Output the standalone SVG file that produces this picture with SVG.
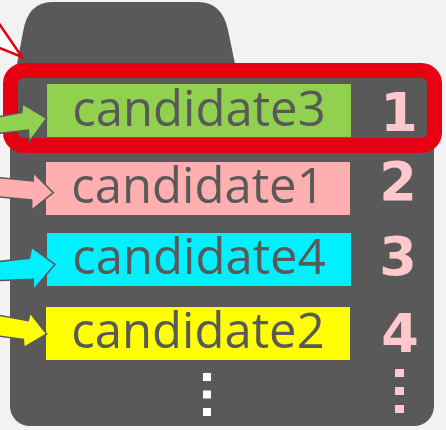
<svg xmlns="http://www.w3.org/2000/svg" width="446" height="430" viewBox="0 0 446 430">
<style>
.lbl{font-family:"Open Sans","Liberation Sans",sans-serif;font-size:49px;fill:#595959;text-anchor:middle}
.num{font-family:"DejaVu Sans","Liberation Sans",sans-serif;font-weight:bold;font-size:54px;fill:#ffc8cc;text-anchor:middle}
.arr{stroke:#595959;stroke-width:1.5;stroke-linejoin:miter}
</style>
<rect width="446" height="430" fill="#f2f2f2"/>
<g id="container">
<rect x="10" y="70" width="424" height="356" rx="20" fill="#595959"/>
<path d="M17,64 L23,32 Q28,2 52,2 L198,2 Q222,2 228,30 L235,64 Z" fill="#595959"/>
</g>
<g id="pointer">
<polygon points="-10,10.5 22,57 -10,44" fill="#ffffff" stroke="#e60012" stroke-width="2.5"/>
</g>
<g id="highlight">
<rect x="10.5" y="70.5" width="424" height="75" rx="13" fill="#595959" stroke="#e60012" stroke-width="15"/>
</g>
<g id="candidate3">
<rect x="47" y="84" width="304" height="53" fill="#92d050"/>
<text class="lbl" x="199" y="126">candidate3</text>
<text class="num" x="399" y="131">1</text>
</g>
<g id="candidate1">
<rect x="46" y="162" width="304" height="53" fill="#ffafaf"/>
<text class="lbl" x="198" y="203">candidate1</text>
<text class="num" x="398" y="200">2</text>
</g>
<g id="candidate4">
<rect x="47" y="233" width="304" height="53" fill="#00f0ff"/>
<text class="lbl" x="199" y="274">candidate4</text>
<text class="num" x="398" y="275">3</text>
</g>
<g id="candidate2">
<rect x="46" y="307" width="304" height="53" fill="#ffff00"/>
<text class="lbl" x="198" y="348">candidate2</text>
<text class="num" x="400" y="352">4</text>
</g>
<g id="more">
<rect x="203" y="373" width="8" height="8" fill="#ffffff"/>
<rect x="203" y="390.5" width="8" height="8" fill="#ffffff"/>
<rect x="203" y="408" width="8" height="8" fill="#ffffff"/>
<rect x="395" y="369" width="9" height="8" fill="#ffc8cc"/>
<rect x="395" y="387" width="9" height="8" fill="#ffc8cc"/>
<rect x="395" y="405" width="9" height="8" fill="#ffc8cc"/>
</g>
<g id="connectors">
<polygon class="arr" fill="#92d050" points="-5,117.5 21.7,112.7 22.7,104 46.7,118.3 29.3,141.7 28.3,130 -5,133.8"/>
<polygon class="arr" fill="#ffafaf" points="-5,177.2 33.3,181 33.3,172.7 53.3,192.7 31.7,210 31.7,200 -5,196.4"/>
<polygon class="arr" fill="#00f0ff" points="-5,261.9 29.3,258.3 31.7,247.3 55,264.3 33.3,290 33.3,279.3 -5,280.8"/>
<polygon class="arr" fill="#ffff00" points="-5,314.5 28.3,320.7 30,312.7 46.7,334 24,347.3 23.3,339.3 -5,335.6"/>
</g>
</svg>
